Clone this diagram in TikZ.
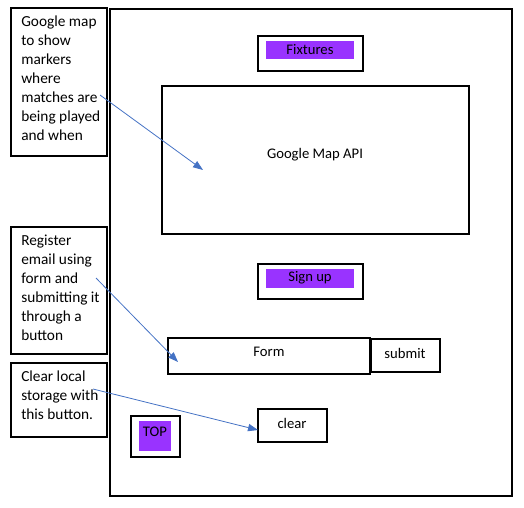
\documentclass[tikz,border=0pt]{standalone}
\usepackage{fontspec}
\setmainfont{Carlito}
\usetikzlibrary{fit,arrows.meta}
\definecolor{arrowblue}{HTML}{4472C4}
\definecolor{btnpurple}{HTML}{9933FF}
\begin{document}
\begin{tikzpicture}[x=0.75pt,y=-0.75pt,
  box/.style={draw=black, line width=0.8pt, inner sep=0pt},
  fillbox/.style={fill=btnpurple, draw=none, inner sep=0pt},
  note/.style={anchor=north west, align=left, inner sep=0pt, font=\fontsize{11.5pt}{14.25pt}\selectfont},
  lbl/.style={inner sep=0pt, font=\fontsize{11pt}{13pt}\selectfont},
  pointer/.style={draw=arrowblue, line width=0.6pt, -{Triangle[length=7.5pt,width=5.5pt]}}
]
\useasboundingbox (0,0) rectangle (524,507);
% outer frame
\node (frame) [box, fit={(110,9) (512,496)}] {};
% notes
\node (n1) [box, fit={(11,8) (107,156)}] {};
\node (n1t) [note] at (21,16) {Google map\\to show\\markers\\where\\matches are\\being played\\and when};
\node (n2) [box, fit={(11,227) (107,354)}] {};
\node (n2t) [note] at (21,235) {Register\\email using\\form and\\submitting it\\through a\\button};
\node (n3) [box, fit={(11,363) (107,437)}] {};
\node (n3t) [note] at (21,371) {Clear local\\storage with\\this button.};
% fixtures
\node (fix) [box, fit={(258,36) (363,71)}] {};
\node (fixf) [fillbox, fit={(266,41) (354,59)}] {};
\node (fixt) [lbl] at (310,50) {Fixtures};
% map
\node (map) [box, fit={(162,86) (469,234)}] {};
\node (mapt) [lbl] at (315,155) {Google Map API};
% sign up
\node (sign) [box, fit={(258,264) (363,299)}] {};
\node (signf) [fillbox, fit={(266,269) (354,288)}] {};
\node (signt) [lbl] at (310,278) {Sign up};
% form
\node (form) [box, fit={(168,338) (370,374)}] {};
\node (formt) [lbl] at (269,352) {Form};
\node (sub) [box, fit={(371,339) (440,372)}] {};
\node (subt) [lbl] at (405,353) {submit};
% clear
\node (clr) [box, fit={(258,409) (327,442)}] {};
\node (clrt) [lbl] at (292,423) {clear};
% top
\node (top) [box, fit={(131,416) (180,457)}] {};
\node (topf) [fillbox, fit={(139,421) (171,451)}] {};
\node (topt) [lbl] at (155,432) {TOP};
% arrows
\coordinate (a1s) at (100,95);
\coordinate (a1e) at (203,170);
\coordinate (a2s) at (96,278);
\coordinate (a2e) at (178,362);
\coordinate (a3s) at (93,389);
\coordinate (a3e) at (258,430);
\draw[pointer] (a1s) -- (a1e);
\draw[pointer] (a2s) -- (a2e);
\draw[pointer] (a3s) -- (a3e);
\end{tikzpicture}
\end{document}
